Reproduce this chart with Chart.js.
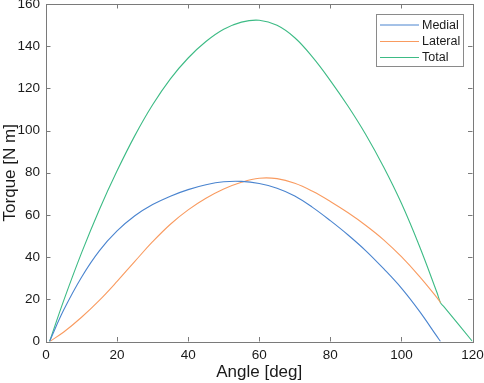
<!DOCTYPE html>
<html>
<head>
<meta charset="utf-8">
<script src="https://cdn.jsdelivr.net/npm/chart.js@4/dist/chart.umd.min.js"></script>
<style>
html,body{margin:0;padding:0;background:#fff;}
#wrap{width:484px;height:383px;}
</style>
</head>
<body>
<div id="wrap"><canvas id="c" width="484" height="383"></canvas></div>
<script>
// Data
const angles  = [1, 5, 10, 15, 20, 25, 30, 35, 40, 45, 50, 55, 60, 65, 70, 75, 80, 85, 90, 95, 100, 105, 110, 111, 112, 120];
const medial  = [0, 15, 30.5, 43, 52.4, 59.6, 64.9, 68.9, 72, 74.3, 75.7, 75.9, 74.9, 72.7, 69, 63.6, 57.3, 50.5, 43, 34.5, 25.3, 14.5, 2.4, 0, null, null];
const lateral = [0, 4.5, 11.5, 19.5, 28.5, 38, 47.3, 55.6, 62.4, 67.9, 72.3, 75.5, 77.4, 77.2, 75, 71.2, 66.4, 61, 55, 48.2, 40.2, 31, 20.8, 18.4, null, null];
const total   = [0, 19.5, 42, 62.5, 80.9, 97.6, 112.2, 124.5, 134.4, 142.2, 148, 151.4, 152.3, 149.9, 144, 134.8, 123.7, 111.5, 98, 82.7, 65.5, 45.5, 23.2, 18.4, 16.4, 0];
const seriesNames = ['Medial', 'Lateral', 'Total'];
const xTicks = [0, 20, 40, 60, 80, 100, 120];
const yTicks = [0, 20, 40, 60, 80, 100, 120, 140, 160];

const colors = ['#4a84cf', '#f99b60', '#3dbb85'];
const FONT = '"Liberation Sans", Arial, Helvetica, sans-serif';

function pts(arr){
  const out = [];
  angles.forEach((a,i)=>{ if(arr[i]!==null) out.push({x:a,y:arr[i]}); });
  return out;
}

const AXIS_COLOR = '#7a7a7a';
const TICK_LEN = 4.5;

const boxPlugin = {
  id: 'boxPlugin',
  afterDraw(chart){
    const ctx = chart.ctx;
    const a = chart.chartArea;
    const xs = chart.scales.x, ys = chart.scales.y;
    ctx.save();
    ctx.strokeStyle = AXIS_COLOR;
    ctx.lineWidth = 1;
    ctx.beginPath();
    xTicks.forEach(v=>{
      const px = Math.round(xs.getPixelForValue(v)) + 0.5;
      ctx.moveTo(px, a.bottom); ctx.lineTo(px, a.bottom - TICK_LEN);
      ctx.moveTo(px, a.top); ctx.lineTo(px, a.top + TICK_LEN);
    });
    yTicks.forEach(v=>{
      const py = Math.round(ys.getPixelForValue(v)) + 0.5;
      ctx.moveTo(a.left, py); ctx.lineTo(a.left + TICK_LEN, py);
      ctx.moveTo(a.right, py); ctx.lineTo(a.right - TICK_LEN, py);
    });
    ctx.stroke();
    ctx.strokeRect(Math.round(a.left)+0.5, Math.round(a.top)+0.5, Math.round(a.right-a.left), Math.round(a.bottom-a.top));

    // legend box inside plot area (top-right)
    const lx = 376.5, ly = 14.5, lw = 87, lh = 52;
    ctx.fillStyle = '#fff';
    ctx.fillRect(lx, ly, lw, lh);
    ctx.strokeStyle = '#8a8a8a';
    ctx.strokeRect(lx, ly, lw, lh);
    const rowY = [25, 41.5, 57.5];
    ctx.font = '12.5px ' + FONT;
    ctx.textBaseline = 'middle';
    ctx.textAlign = 'left';
    chart.data.datasets.forEach((ds,i)=>{
      ctx.strokeStyle = ds.borderColor;
      ctx.lineWidth = 1;
      ctx.beginPath();
      ctx.moveTo(380, rowY[i]); ctx.lineTo(419, rowY[i]);
      ctx.stroke();
      ctx.fillStyle = '#1a1a1a';
      ctx.fillText(ds.label, 422, rowY[i]+0.5);
    });
    ctx.restore();
  }
};

new Chart(document.getElementById('c'), {
  type: 'line',
  data: {
    datasets: [
      {label: seriesNames[0], data: pts(medial), borderColor: colors[0]},
      {label: seriesNames[1], data: pts(lateral), borderColor: colors[1]},
      {label: seriesNames[2], data: pts(total), borderColor: colors[2]}
    ].map(d=>Object.assign(d,{borderWidth:1.1, pointRadius:0, fill:false, tension:0.4}))
  },
  options: {
    responsive: false,
    animation: false,
    devicePixelRatio: 1,
    layout: {padding: {top: 4, right: 11.5, left: 0, bottom: 0}},
    plugins: {legend: {display:false}, tooltip:{enabled:false}},
    scales: {
      x: {
        type: 'linear', min: 0, max: 120,
        afterBuildTicks: s => { s.ticks = xTicks.map(v=>({value:v})); },
        afterFit: s => { s.height = 41.5; s.paddingLeft = 0; s.paddingRight = 0; },
        grid: {display: false, drawTicks: false},
        border: {display: false},
        ticks: {color:'#1a1a1a', font:{family:FONT, size:13.5}, padding: 6, maxRotation:0},
        title: {display:true, text:'Angle [deg]', color:'#1a1a1a', font:{family:FONT, size:17}, padding:{top:3,bottom:0}}
      },
      y: {
        type: 'linear', min: 0, max: 160,
        afterBuildTicks: s => { s.ticks = yTicks.map(v=>({value:v})); },
        afterFit: s => { s.width = 46; s.paddingTop = 0; s.paddingBottom = 0; },
        grid: {display: false, drawTicks: false},
        border: {display: false},
        ticks: {color:'#1a1a1a', font:{family:FONT, size:13.5}, padding: 6},
        title: {display:true, text:'Torque [N m]', color:'#1a1a1a', font:{family:FONT, size:17}, padding:{top:0,bottom:0}}
      }
    }
  },
  plugins: [boxPlugin]
});
</script>
</body>
</html>
